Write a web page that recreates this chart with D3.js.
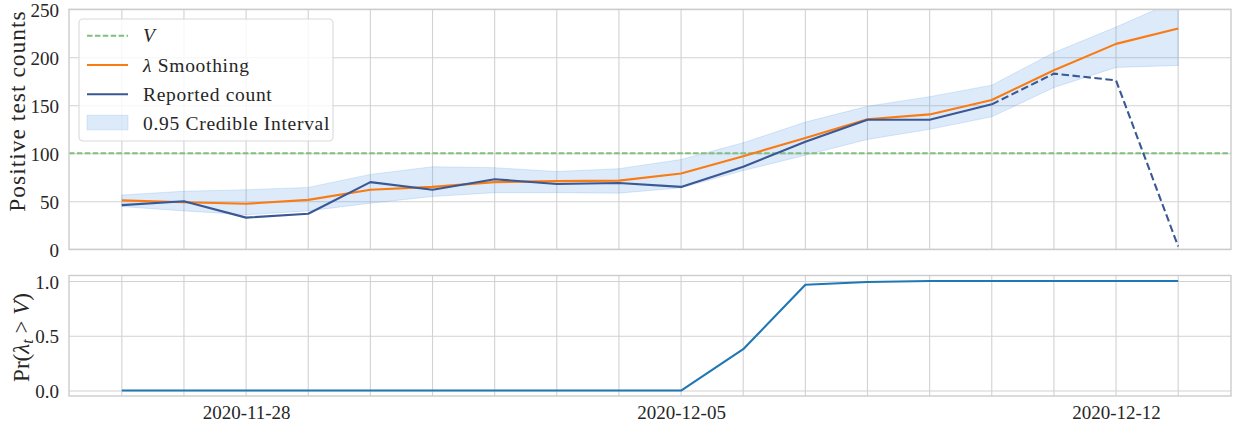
<!DOCTYPE html>
<html>
<head>
<meta charset="utf-8">
<script src="https://cdn.jsdelivr.net/npm/d3@7"></script>
<style>
  html, body { margin: 0; padding: 0; background: #ffffff; }
  svg { display: block; }
  text { font-family: "Liberation Serif", "DejaVu Serif", serif; fill: #262626; }
</style>
</head>
<body>
<svg id="chart" width="1233" height="425"></svg>
<script>
// Daily positive test counts with posterior smoothing
const dates = [
  "2020-11-26", "2020-11-27", "2020-11-28", "2020-11-29", "2020-11-30",
  "2020-12-01", "2020-12-02", "2020-12-03", "2020-12-04", "2020-12-05",
  "2020-12-06", "2020-12-07", "2020-12-08", "2020-12-09", "2020-12-10",
  "2020-12-11", "2020-12-12", "2020-12-13"
];
const reported = [46, 50, 33, 37, 70, 62, 73, 68, 69, 65, 86, 112, 135, 135, 151, 183, 176, 3];
const smoothed = [51, 49, 47.5, 51.5, 62, 65, 70, 71, 71.5, 79, 97, 116, 135.5, 140.5, 155.5, 186.5, 214, 230];
const ciLower  = [44.5, 40, 36, 40, 48, 55, 59, 59, 58.5, 64, 82, 98, 114.5, 125, 138, 168.5, 189.5, 191.5];
const ciUpper  = [56.5, 60.5, 62, 64.5, 78, 86, 85, 81, 84, 93.5, 111, 132.5, 149, 159, 171, 205, 231.5, 260];
const probAbove = [0, 0, 0, 0, 0, 0, 0, 0, 0, 0, 0.377, 0.965, 0.99, 1, 1, 1, 1, 1];
// reports from this date on are still incomplete
const provisionalFrom = "2020-12-10";
const threshold = 100;

const countTicks = [0, 50, 100, 150, 200, 250];
const probTicks = [0, 0.5, 1.0];
const dateTickLabels = ["2020-11-28", "2020-12-05", "2020-12-12"];

const parse = d3.utcParse("%Y-%m-%d");
const days = dates.map(parse);
const rows = days.map((d, i) => ({
  date: d, reported: reported[i], smoothed: smoothed[i],
  lo: ciLower[i], hi: ciUpper[i], prob: probAbove[i]
}));

const svg = d3.select("#chart");
const left = 69, right = 1231;
const top1 = 9.3, bottom1 = 249.3;
const top2 = 275.5, bottom2 = 396;
const gridColor = "#d2d2d2";
const frameColor = "#cccccc";

// x domain padded by 5% of the data span on each side
const span = days[days.length - 1] - days[0];
const x = d3.scaleUtc()
  .domain([new Date(+days[0] - span * 0.05), new Date(+days[days.length - 1] + span * 0.05)])
  .range([left, right]);

const yCount = d3.scaleLinear().domain([0, 250]).range([bottom1, top1]);
const yProb = d3.scaleLinear().domain([-0.05, 1.05]).range([bottom2, top2]);

const dayTicks = d3.utcDay.range(x.domain()[0], x.domain()[1]);

function panel(yScale, yTop, yBottom, ticks, fmt, id) {
  const g = svg.append("g");
  g.append("clipPath").attr("id", id)
    .append("rect").attr("x", left).attr("y", yTop)
    .attr("width", right - left).attr("height", yBottom - yTop);

  // vertical daily grid
  g.append("g").selectAll("line").data(dayTicks).join("line")
    .attr("x1", d => x(d)).attr("x2", d => x(d))
    .attr("y1", yTop).attr("y2", yBottom)
    .attr("stroke", gridColor).attr("stroke-width", 1.1);

  // horizontal grid + tick labels
  const ax = g.append("g").attr("transform", `translate(${left},0)`)
    .call(d3.axisLeft(yScale).tickValues(ticks).tickFormat(fmt)
      .tickSize(-(right - left)).tickPadding(10));
  ax.select(".domain").remove();
  ax.selectAll(".tick line").attr("stroke", gridColor).attr("stroke-width", 1.1);
  ax.selectAll(".tick text")
    .attr("font-size", 19).attr("dy", "0.38em")
    .style("font-family", '"Liberation Serif", serif').attr("fill", "#262626");

  const plot = g.append("g").attr("clip-path", `url(#${id})`);
  return { g, plot };
}

// ---------- top panel: counts ----------
const P1 = panel(yCount, top1, bottom1, countTicks, d3.format("d"), "clip-top");

P1.plot.append("path").datum(rows)
  .attr("d", d3.area().x(d => x(d.date)).y0(d => yCount(d.lo)).y1(d => yCount(d.hi)))
  .attr("fill", "rgb(80,150,230)").attr("fill-opacity", 0.2)
  .attr("stroke", "rgb(80,150,230)").attr("stroke-opacity", 0.2).attr("stroke-width", 1);

P1.plot.append("line")
  .attr("x1", left).attr("x2", right)
  .attr("y1", yCount(threshold)).attr("y2", yCount(threshold))
  .attr("stroke", "#7fbf7f").attr("stroke-width", 2)
  .attr("stroke-dasharray", "5.5,2.4");

const line = d3.line().x(d => x(d.date));

P1.plot.append("path").datum(rows)
  .attr("d", line.y(d => yCount(d.smoothed)))
  .attr("fill", "none").attr("stroke", "#f97b12").attr("stroke-width", 2.1)
  .attr("stroke-linejoin", "round");

const cut = parse(provisionalFrom);
const complete = rows.filter(d => d.date <= cut);
const provisional = rows.filter(d => d.date >= cut);

P1.plot.append("path").datum(complete)
  .attr("d", line.y(d => yCount(d.reported)))
  .attr("fill", "none").attr("stroke", "#3a5894").attr("stroke-width", 2.1)
  .attr("stroke-linejoin", "round");
P1.plot.append("path").datum(provisional)
  .attr("d", line.y(d => yCount(d.reported)))
  .attr("fill", "none").attr("stroke", "#3a5894").attr("stroke-width", 2.1)
  .attr("stroke-dasharray", "7.5,3.5");

P1.g.append("rect")
  .attr("x", left).attr("y", top1).attr("width", right - left).attr("height", bottom1 - top1)
  .attr("fill", "none").attr("stroke", frameColor).attr("stroke-width", 1.4);

svg.append("text")
  .attr("transform", `translate(25,111) rotate(-90)`)
  .attr("text-anchor", "middle").attr("font-size", 23.5).attr("letter-spacing", 1)
  .text("Positive test counts");

// legend
const lg = svg.append("g");
lg.append("rect").attr("x", 79).attr("y", 19).attr("width", 254).attr("height", 122)
  .attr("rx", 4).attr("fill", "#ffffff").attr("fill-opacity", 0.8)
  .attr("stroke", "#d9d9d9").attr("stroke-width", 1.1);

const legendRows = [
  { y: 35.7, kind: "dash" },
  { y: 65, kind: "orange" },
  { y: 94.3, kind: "blue" },
  { y: 123.3, kind: "band" }
];
legendRows.forEach(r => {
  if (r.kind === "band") {
    lg.append("rect").attr("x", 87).attr("y", r.y - 8).attr("width", 41).attr("height", 14.5)
      .attr("fill", "rgb(80,150,230)").attr("fill-opacity", 0.2)
      .attr("stroke", "rgb(80,150,230)").attr("stroke-opacity", 0.2);
  } else {
    const ln = lg.append("line").attr("x1", 87).attr("x2", 128).attr("y1", r.y).attr("y2", r.y)
      .attr("stroke-width", 2.1);
    if (r.kind === "dash") ln.attr("stroke", "#7fbf7f").attr("stroke-dasharray", "5.5,2.4");
    if (r.kind === "orange") ln.attr("stroke", "#f97b12");
    if (r.kind === "blue") ln.attr("stroke", "#3a5894");
  }
});
const lt = (y) => lg.append("text").attr("x", 143).attr("y", y + 6.5)
  .attr("font-size", 19.5).attr("letter-spacing", 0.7);
lt(35.7).append("tspan").attr("font-style", "italic").text("V");
const t2 = lt(65);
t2.append("tspan").attr("font-style", "italic").text("λ");
t2.append("tspan").text(" Smoothing");
lt(94.3).text("Reported count");
lt(123.3).text("0.95 Credible Interval");

// ---------- bottom panel: exceedance probability ----------
const P2 = panel(yProb, top2, bottom2, probTicks, d3.format(".1f"), "clip-bottom");

P2.plot.append("path").datum(rows)
  .attr("d", d3.line().x(d => x(d.date)).y(d => yProb(d.prob)))
  .attr("fill", "none").attr("stroke", "#1f77b4").attr("stroke-width", 2.1)
  .attr("stroke-linejoin", "round");

P2.g.append("rect")
  .attr("x", left).attr("y", top2).attr("width", right - left).attr("height", bottom2 - top2)
  .attr("fill", "none").attr("stroke", frameColor).attr("stroke-width", 1.4);

const pl = svg.append("text")
  .attr("transform", `translate(29,337.5) rotate(-90)`)
  .attr("text-anchor", "middle").attr("font-size", 23);
pl.append("tspan").text("Pr(");
pl.append("tspan").attr("font-style", "italic").text("λ");
pl.append("tspan").attr("font-style", "italic").attr("font-size", 16).attr("dy", 4).text("t");
pl.append("tspan").attr("dy", -4).text(" > ");
pl.append("tspan").attr("font-style", "italic").text("V");
pl.append("tspan").text(")");

// date labels
const xa = svg.append("g").attr("transform", `translate(0,${bottom2})`)
  .call(d3.axisBottom(x).tickValues(dateTickLabels.map(parse))
    .tickFormat(d3.utcFormat("%Y-%m-%d")).tickSize(0).tickPadding(10));
xa.select(".domain").remove();
xa.selectAll(".tick text").attr("font-size", 19)
  .style("font-family", '"Liberation Serif", serif').attr("fill", "#262626");
</script>
</body>
</html>
